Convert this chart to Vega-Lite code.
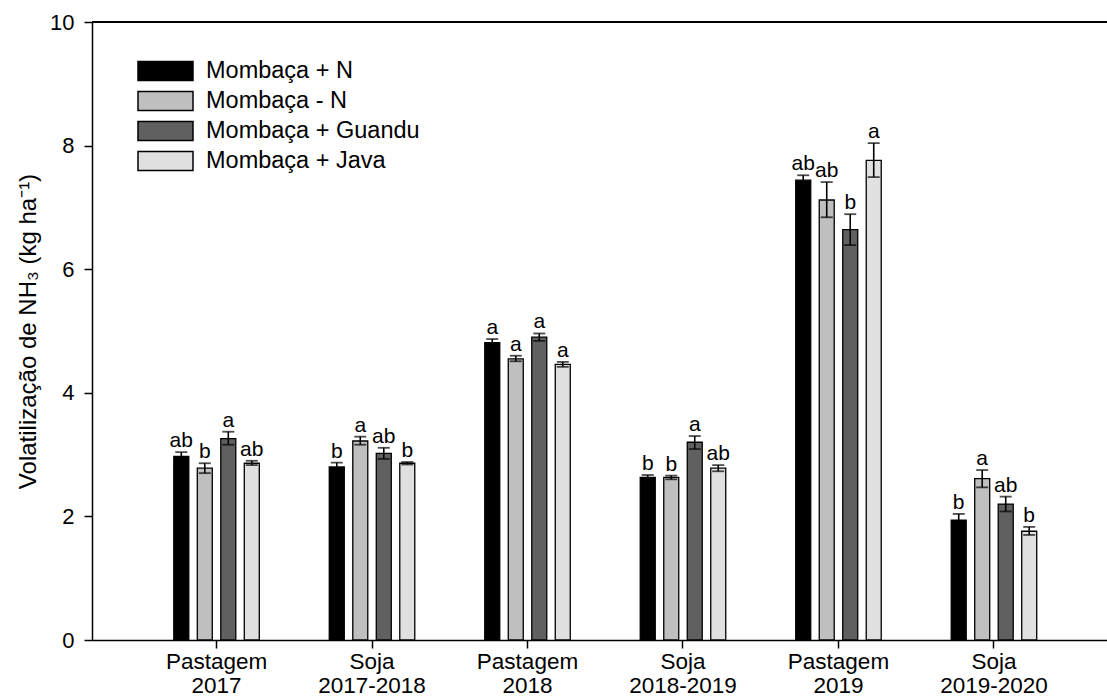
{
  "$schema": "https://vega.github.io/schema/vega-lite/v6.json",
  "width": 1015,
  "height": 618,
  "autosize": "none",
  "padding": {"left": 92, "top": 22, "right": 0, "bottom": 59},
  "background": "white",
  "config": {
    "view": {"stroke": null},
    "font": "Liberation Sans",
    "axis": {"domainColor": "black", "tickColor": "black", "labelColor": "black", "titleColor": "black", "grid": false, "domainWidth": 1.5, "tickWidth": 1.5}
  },
  "data": {
    "values": [
      {"period": "Pastagem|2017", "treatment": "Mombaça + N", "mean": 2.97, "lo": 2.90, "hi": 3.04, "letter": "ab"},
      {"period": "Pastagem|2017", "treatment": "Mombaça - N", "mean": 2.78, "lo": 2.70, "hi": 2.86, "letter": "b"},
      {"period": "Pastagem|2017", "treatment": "Mombaça + Guandu", "mean": 3.26, "lo": 3.16, "hi": 3.37, "letter": "a"},
      {"period": "Pastagem|2017", "treatment": "Mombaça + Java", "mean": 2.86, "lo": 2.83, "hi": 2.90, "letter": "ab"},
      {"period": "Soja|2017-2018", "treatment": "Mombaça + N", "mean": 2.80, "lo": 2.73, "hi": 2.87, "letter": "b"},
      {"period": "Soja|2017-2018", "treatment": "Mombaça - N", "mean": 3.22, "lo": 3.16, "hi": 3.29, "letter": "a"},
      {"period": "Soja|2017-2018", "treatment": "Mombaça + Guandu", "mean": 3.02, "lo": 2.93, "hi": 3.11, "letter": "ab"},
      {"period": "Soja|2017-2018", "treatment": "Mombaça + Java", "mean": 2.86, "lo": 2.84, "hi": 2.88, "letter": "b"},
      {"period": "Pastagem|2018", "treatment": "Mombaça + N", "mean": 4.81, "lo": 4.75, "hi": 4.87, "letter": "a"},
      {"period": "Pastagem|2018", "treatment": "Mombaça - N", "mean": 4.55, "lo": 4.51, "hi": 4.60, "letter": "a"},
      {"period": "Pastagem|2018", "treatment": "Mombaça + Guandu", "mean": 4.90, "lo": 4.84, "hi": 4.96, "letter": "a"},
      {"period": "Pastagem|2018", "treatment": "Mombaça + Java", "mean": 4.46, "lo": 4.42, "hi": 4.50, "letter": "a"},
      {"period": "Soja|2018-2019", "treatment": "Mombaça + N", "mean": 2.63, "lo": 2.59, "hi": 2.67, "letter": "b"},
      {"period": "Soja|2018-2019", "treatment": "Mombaça - N", "mean": 2.63, "lo": 2.60, "hi": 2.66, "letter": "b"},
      {"period": "Soja|2018-2019", "treatment": "Mombaça + Guandu", "mean": 3.20, "lo": 3.09, "hi": 3.30, "letter": "a"},
      {"period": "Soja|2018-2019", "treatment": "Mombaça + Java", "mean": 2.78, "lo": 2.73, "hi": 2.83, "letter": "ab"},
      {"period": "Pastagem|2019", "treatment": "Mombaça + N", "mean": 7.44, "lo": 7.36, "hi": 7.52, "letter": "ab"},
      {"period": "Pastagem|2019", "treatment": "Mombaça - N", "mean": 7.12, "lo": 6.84, "hi": 7.41, "letter": "ab"},
      {"period": "Pastagem|2019", "treatment": "Mombaça + Guandu", "mean": 6.64, "lo": 6.39, "hi": 6.89, "letter": "b"},
      {"period": "Pastagem|2019", "treatment": "Mombaça + Java", "mean": 7.76, "lo": 7.49, "hi": 8.04, "letter": "a"},
      {"period": "Soja|2019-2020", "treatment": "Mombaça + N", "mean": 1.94, "lo": 1.84, "hi": 2.04, "letter": "b"},
      {"period": "Soja|2019-2020", "treatment": "Mombaça - N", "mean": 2.61, "lo": 2.47, "hi": 2.75, "letter": "a"},
      {"period": "Soja|2019-2020", "treatment": "Mombaça + Guandu", "mean": 2.20, "lo": 2.08, "hi": 2.32, "letter": "ab"},
      {"period": "Soja|2019-2020", "treatment": "Mombaça + Java", "mean": 1.76, "lo": 1.70, "hi": 1.83, "letter": "b"}
    ]
  },
  "layer": [
    {
      "mark": {"type": "rule", "color": "black", "strokeWidth": 1.5},
      "encoding": {"y": {"datum": 10, "type": "quantitative", "scale": {"domain": [0, 10], "nice": false}}}
    },
    {
      "mark": {"type": "bar", "stroke": "black", "strokeWidth": 1.3, "opacity": 1},
      "encoding": {
        "x": {"field": "period", "type": "nominal", "sort": null,
          "scale": {"paddingInner": 0, "paddingOuter": 0.264, "align": 0.57},
          "axis": {"title": null, "labelAngle": 0, "labelExpr": "split(datum.label, '|')", "labelFontSize": 22.5, "labelLineHeight": 24, "tickSize": 8, "labelPadding": 2, "labelBaseline": "top"}},
        "xOffset": {"field": "treatment", "type": "nominal", "sort": ["Mombaça + N", "Mombaça - N", "Mombaça + Guandu", "Mombaça + Java"],
          "scale": {"range": [35, 120.5], "paddingInner": 0.3617, "paddingOuter": 0}},
        "y": {"field": "mean", "type": "quantitative", "scale": {"domain": [0, 10], "nice": false},
          "axis": {"title": "Volatilização de NH₃ (kg ha⁻¹)", "values": [0, 2, 4, 6, 8, 10], "format": "d", "labelFontSize": 22, "tickSize": 8, "labelPadding": 10, "titleFontSize": 24, "titleFontWeight": "normal", "titlePadding": 9}},
        "color": {"field": "treatment", "type": "nominal",
          "sort": ["Mombaça + N", "Mombaça - N", "Mombaça + Guandu", "Mombaça + Java"],
          "scale": {"domain": ["Mombaça + N", "Mombaça - N", "Mombaça + Guandu", "Mombaça + Java"], "range": ["#000000", "#bfbfbf", "#606060", "#e0e0e0"]},
          "legend": {"orient": "none", "legendX": 45, "legendY": 34, "title": null, "padding": 0,
            "symbolType": "M-1,-0.345H1V0.345H-1Z", "symbolSize": 3025, "symbolStrokeColor": "black", "symbolStrokeWidth": 1.5, "symbolOpacity": 1,
            "labelFontSize": 23.5, "labelColor": "black", "labelOffset": 12, "clipHeight": 30, "rowPadding": 0, "labelLimit": 400}}
      }
    },
    {
      "mark": {"type": "rule", "color": "black", "strokeWidth": 1.6},
      "encoding": {
        "x": {"field": "period", "type": "nominal", "sort": null},
        "xOffset": {"field": "treatment", "type": "nominal", "sort": ["Mombaça + N", "Mombaça - N", "Mombaça + Guandu", "Mombaça + Java"]},
        "y": {"field": "lo", "type": "quantitative"},
        "y2": {"field": "hi"}
      }
    },
    {
      "mark": {"type": "tick", "color": "black", "thickness": 1.8, "size": 12},
      "encoding": {
        "x": {"field": "period", "type": "nominal", "sort": null},
        "xOffset": {"field": "treatment", "type": "nominal", "sort": ["Mombaça + N", "Mombaça - N", "Mombaça + Guandu", "Mombaça + Java"]},
        "y": {"field": "hi", "type": "quantitative"}
      }
    },
    {
      "mark": {"type": "tick", "color": "black", "thickness": 1.8, "size": 12},
      "encoding": {
        "x": {"field": "period", "type": "nominal", "sort": null},
        "xOffset": {"field": "treatment", "type": "nominal", "sort": ["Mombaça + N", "Mombaça - N", "Mombaça + Guandu", "Mombaça + Java"]},
        "y": {"field": "lo", "type": "quantitative"}
      }
    },
    {
      "mark": {"type": "text", "color": "black", "fontSize": 21, "baseline": "alphabetic", "dy": -5},
      "encoding": {
        "x": {"field": "period", "type": "nominal", "sort": null},
        "xOffset": {"field": "treatment", "type": "nominal", "sort": ["Mombaça + N", "Mombaça - N", "Mombaça + Guandu", "Mombaça + Java"]},
        "y": {"field": "hi", "type": "quantitative"},
        "text": {"field": "letter"}
      }
    }
  ]
}
